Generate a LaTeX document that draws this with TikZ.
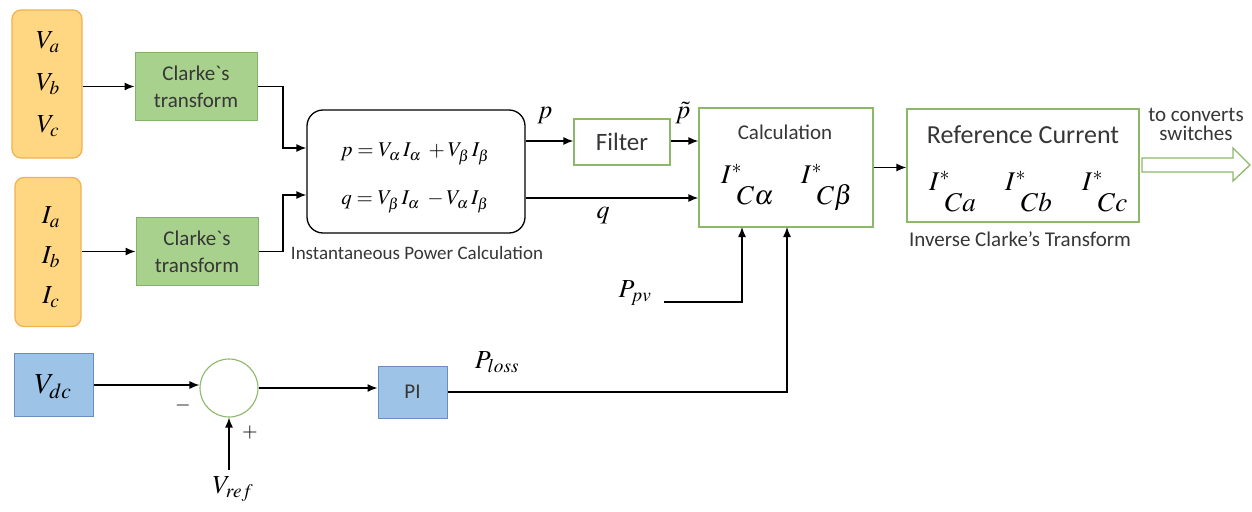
\documentclass[tikz,border=0pt]{standalone}
\usepackage{mathptmx}
\usepackage{fontspec}
\setmainfont{Carlito}
\usetikzlibrary{arrows.meta,calc}
\definecolor{orfill}{HTML}{FFD682}
\definecolor{ordraw}{HTML}{F2B252}
\definecolor{grfill}{HTML}{A9D18E}
\definecolor{grdraw}{HTML}{82B366}
\definecolor{gline}{HTML}{8CB86A}
\definecolor{blfill}{HTML}{9DC3E6}
\definecolor{bldraw}{HTML}{6C8EBF}
\definecolor{txt}{HTML}{363636}
\newcommand{\istarx}[1]{$I^{*}$\kern-5pt\raisebox{-21pt}{$#1$}}
\tikzset{
  arr/.style={line width=1.3pt,-{Latex[length=10pt,width=8pt]}},
  srcbox/.style={draw=ordraw,fill=orfill,line width=1.3pt,rounded corners=9pt,align=center},
  clarke/.style={draw=grdraw,fill=grfill,line width=1pt,align=center,text=txt,font=\fontsize{21}{27}\selectfont,minimum width=122pt,minimum height=68pt},
  wbox/.style={draw=gline,fill=white,line width=1.3pt,align=center},
  bbox/.style={draw=bldraw,fill=blfill,line width=1pt,align=center},
  captxt/.style={text=txt,font=\fontsize{21}{23}\selectfont,inner sep=0pt},
  mlab/.style={font=\fontsize{26}{28}\selectfont,inner sep=0pt},
  istar/.style={font=\fontsize{27}{29}\selectfont,inner sep=0pt,anchor=base west}
}
\begin{document}
\begin{tikzpicture}[x=1pt,y=-1pt]
\useasboundingbox (0,0) rectangle (1252,511);
% sources
\node[srcbox,minimum width=70pt,minimum height=148pt] (V) at (47,84) {};
\node[mlab] (va) at (48,42) {$V_{a}$};
\node[mlab] (vb) at (48,84) {$V_{b}$};
\node[mlab] (vc) at (48,126) {$V_{c}$};
\node[srcbox,minimum width=66pt,minimum height=149pt] (I) at (48,252) {};
\node[mlab] (ia) at (51,217) {$I_{a}$};
\node[mlab] (ib) at (51,257) {$I_{b}$};
\node[mlab] (ic) at (51,297) {$I_{c}$};
% Clarke
\node[clarke] (c1) at (196,86.5) {Clarke\textasciigrave s\\transform};
\node[clarke] (c2) at (197,251.5) {Clarke\textasciigrave s\\transform};
% IPC
\node[draw=black,fill=white,line width=1.3pt,rounded corners=16pt,minimum width=218pt,minimum height=123pt] (ipc) at (416,171.5) {};
\node[font=\fontsize{21}{23}\selectfont,inner sep=0pt] (eqp) at (415,154) {$p = V_{\alpha}\,I_{\alpha}\;+ V_{\beta}\,I_{\beta}$};
\node[font=\fontsize{21}{23}\selectfont,inner sep=0pt] (eqq) at (415,202) {$q = V_{\beta}\,I_{\alpha}\;- V_{\alpha}\,I_{\beta}$};
\node[captxt,font=\fontsize{19}{21}\selectfont] (ipcl) at (417,253) {Instantaneous Power Calculation};
% Filter
\node[wbox,text=txt,font=\fontsize{25}{27}\selectfont,minimum width=96pt,minimum height=46pt] (filt) at (622,142) {Filter};
% Calculation
\node[wbox,minimum width=174pt,minimum height=119pt] (calc) at (786,167.5) {};
\node[captxt] (calcl) at (785,132) {Calculation};
\node[istar] (ica) at (721,183) {\istarx{C\alpha}};
\node[istar] (icb) at (801,183) {\istarx{C\beta}};
% Reference current
\node[wbox,minimum width=232pt,minimum height=113pt] (ref) at (1023,165.5) {};
\node[text=txt,font=\fontsize{26}{28}\selectfont,inner sep=0pt] (refl) at (1023,135) {Reference Current};
\node[istar] (ira) at (929,190) {\istarx{Ca}};
\node[istar] (irb) at (1005,190) {\istarx{Cb}};
\node[istar] (irc) at (1082,190) {\istarx{Cc}};
\node[captxt] (icl) at (1020,239) {Inverse Clarke’s Transform};
\node[text=txt,font=\fontsize{21}{19}\selectfont,align=center,inner sep=0pt] (conv) at (1196,124) {to converts\\switches};
\draw[gline,fill=white,line width=1.3pt] (1142,158) -- (1233,158) -- (1233,148) -- (1250,165) -- (1233,181) -- (1233,172) -- (1142,172) -- cycle;
% bottom
\node[bbox,minimum width=79pt,minimum height=63pt] (vdc) at (53.5,384.5) {};
\node[font=\fontsize{29}{31}\selectfont,inner sep=0pt] (vdcl) at (53,387) {$V_{dc}$};
\node[draw=gline,fill=white,line width=1.1pt,circle,minimum size=58pt,inner sep=0pt] (sum) at (229,388) {};
\node[font=\fontsize{20}{22}\selectfont,inner sep=0pt] (minus) at (183,405) {$-$};
\node[font=\fontsize{20}{22}\selectfont,inner sep=0pt] (plus) at (250,432) {$+$};
\node[mlab] (vref) at (233,489) {$V_{ref}$};
\coordinate (vrs) at (229,470);
\node[bbox,text=txt,font=\fontsize{21}{23}\selectfont,minimum width=69pt,minimum height=52pt] (pi) at (412.5,392) {PI};
\node[font=\fontsize{26}{28}\selectfont,inner sep=0pt] (ploss) at (497,362) {$P_{loss}$};
% labels
\node[mlab] (pl) at (545,116) {$p$};
\node[mlab] (ptl) at (683,113) {$\tilde{p}$};
\node[mlab] (ql) at (603,216) {$q$};
\node[mlab] (ppv) at (635,293) {$P_{pv}$};
\coordinate (ppvs) at (664,302);
% connectors
\draw[arr] (V.east|-c1) -- (c1.west);
\draw[arr] (I.east|-c2) -- (c2.west);
\coordinate (j1) at (283,148);
\coordinate (j2) at (283,195);
\draw[arr] (c1.east) -| (j1) -- (ipc.west|-j1);
\draw[arr] (c2.east) -| (j2) -- (ipc.west|-j2);
\coordinate (py) at (0,141);
\draw[arr] (ipc.east|-py) -- (filt.west|-py);
\draw[arr] (filt.east|-py) -- (calc.west|-py);
\coordinate (qy) at (0,198);
\draw[arr] (ipc.east|-qy) -- (calc.west|-qy);
\coordinate (cb1) at (742,227);
\coordinate (cb2) at (787,227);
\draw[arr] (ppvs) -| (cb1);
\draw[arr] (pi.east) -| (cb2);
\draw[arr] (calc.east) -- (calc.east-|ref.west);
\coordinate (vy) at (0,385);
\draw[arr] (vdc.east|-vy) -- (sum.west|-vy);
\draw[arr] (sum.east) -- (pi.west|-sum);
\draw[arr] (vrs) -- (sum.south);
\end{tikzpicture}
\end{document}
